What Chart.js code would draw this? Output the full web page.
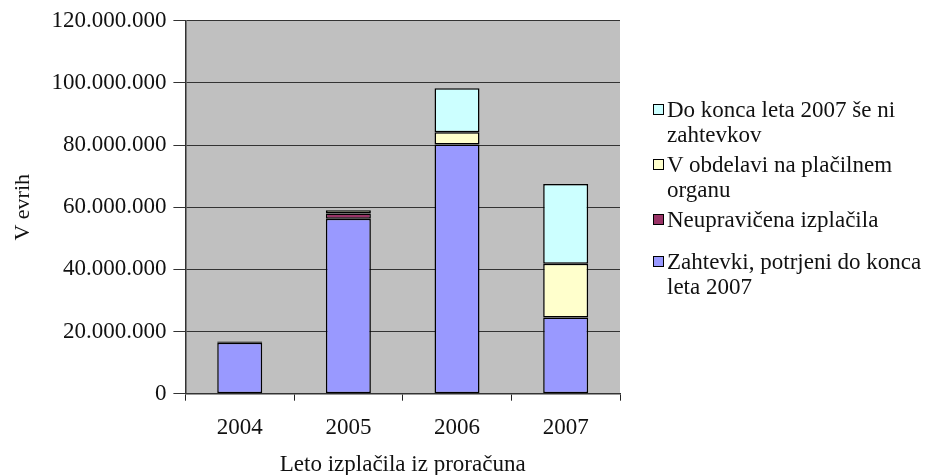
<!DOCTYPE html>
<html lang="sl">
<head>
<meta charset="UTF-8">
<title>Izplačila po letih</title>
<script src="https://cdn.jsdelivr.net/npm/chart.js"></script>
<style>
    body { margin: 0; background: #fff; }
    #wrap { position: relative; width: 932px; height: 475px; overflow: hidden; }
    #legend {
        position: absolute;
        left: 653px;
        top: 97px;
        font-family: "Liberation Serif", "DejaVu Serif", serif;
        font-size: 23px;
        color: #111;
        line-height: 25px;
        white-space: nowrap;
    }
    .item { position: relative; padding-left: 14px; }
    .box {
        position: absolute; left: 0; top: 7px;
        width: 9px; height: 9px;
        border: 1px solid #000;
    }
</style>
</head>
<body>
<div id="wrap">
    <canvas id="chart" width="932" height="475"></canvas>
    <div id="legend"></div>
</div>
<script>
// data
const years = ['2004', '2005', '2006', '2007'];
const potrjeni = [16400000, 56300000, 80200000, 24500000];
const neupraviceni = [400000, 1700000, 0, 0];
const vObdelavi = [0, 1000000, 3900000, 17300000];
const seNiZahtevkov = [0, 0, 14200000, 25700000];

const seriesNames = [
    'Zahtevki, potrjeni do konca leta 2007',
    'Neupravičena izplačila',
    'V obdelavi na plačilnem organu',
    'Do konca leta 2007 še ni zahtevkov'
];
// legend lines, as wrapped in the original
const legendLines = [
    ['Zahtevki, potrjeni do konca', 'leta 2007'],
    ['Neupravičena izplačila'],
    ['V obdelavi na plačilnem', 'organu'],
    ['Do konca leta 2007 še ni', 'zahtevkov']
];
const seriesColors = ['#9999FF', '#993366', '#FFFFCC', '#CCFFFF'];
const seriesData = [potrjeni, neupraviceni, vObdelavi, seNiZahtevkov];

const fontFamily = '"Liberation Serif", "DejaVu Serif", serif';

// gray plot background
const plotBg = {
    id: 'plotBg',
    beforeDraw(chart) {
        const a = chart.chartArea;
        const c = chart.ctx;
        c.save();
        c.fillStyle = '#C0C0C0';
        c.fillRect(a.left, a.top, a.right - a.left, a.bottom - a.top);
        c.restore();
    }
};

const datasets = seriesData.map((d, i) => ({
    label: seriesNames[i],
    data: d,
    backgroundColor: seriesColors[i],
    borderColor: '#000',
    borderWidth: 1.5,
    borderSkipped: false,
    categoryPercentage: 1,
    barPercentage: 0.414
}));

new Chart(document.getElementById('chart'), {
    type: 'bar',
    data: { labels: years, datasets: datasets },
    plugins: [plotBg],
    options: {
        responsive: false,
        animation: false,
        layout: { padding: { top: 0, right: 312, bottom: 0, left: 0 } },
        plugins: {
            legend: { display: false },
            tooltip: { enabled: false }
        },
        scales: {
            x: {
                stacked: true,
                grid: {
                    offset: true,
                    drawOnChartArea: false,
                    color: '#222',
                    tickLength: 7
                },
                border: { color: '#333', width: 1.5 },
                ticks: {
                    color: '#111',
                    padding: 13,
                    font: { family: fontFamily, size: 23 }
                },
                title: {
                    display: true,
                    text: 'Leto izplačila iz proračuna',
                    color: '#111',
                    padding: { top: 0, bottom: 0 },
                    font: { family: fontFamily, size: 23, lineHeight: 0.9 }
                }
            },
            y: {
                stacked: true,
                min: 0,
                max: 120000000,
                grid: {
                    color: '#333',
                    lineWidth: 1,
                    tickLength: 12
                },
                border: { color: '#333', width: 1.5 },
                ticks: {
                    stepSize: 20000000,
                    color: '#111',
                    padding: 7,
                    font: { family: fontFamily, size: 23 },
                    callback: v => String(v).replace(/\B(?=(\d{3})+(?!\d))/g, '.')
                },
                title: {
                    display: true,
                    text: 'V evrih',
                    color: '#111',
                    padding: { top: 10, bottom: 8 },
                    font: { family: fontFamily, size: 22 }
                }
            }
        }
    }
});

// html legend, reversed order like the original
const legendGaps = [0, 5, 5, 17];
const legend = document.getElementById('legend');
for (let i = seriesNames.length - 1, k = 0; i >= 0; i--, k++) {
    const item = document.createElement('div');
    item.className = 'item';
    item.style.marginTop = legendGaps[k] + 'px';
    item.title = seriesNames[i];
    const box = document.createElement('span');
    box.className = 'box';
    box.style.background = seriesColors[i];
    item.appendChild(box);
    legendLines[i].forEach((line, j) => {
        if (j > 0) item.appendChild(document.createElement('br'));
        item.appendChild(document.createTextNode(line));
    });
    legend.appendChild(item);
}
</script>
</body>
</html>
